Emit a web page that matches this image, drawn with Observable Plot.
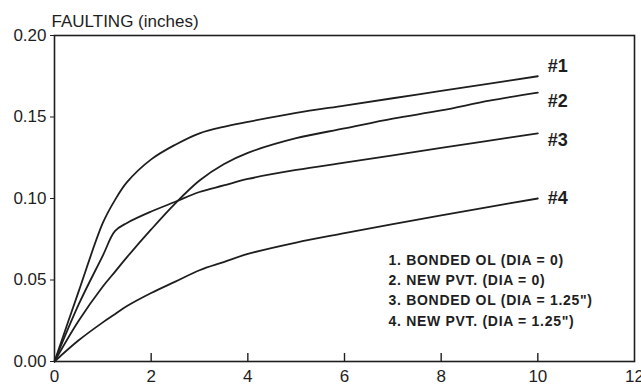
<!DOCTYPE html>
<html><head><meta charset="utf-8">
<script src="https://cdn.jsdelivr.net/npm/d3@7"></script>
<script src="https://cdn.jsdelivr.net/npm/@observablehq/plot@0.6"></script>
<style>body{margin:0;background:#fff} svg{display:block}</style>
</head><body><div id="chart"></div>
<script>
const xs = [0, 0.5, 1, 1.25, 1.5, 2, 2.5, 3, 3.5, 4, 5, 6, 7, 8, 9, 10];
const curve1 = [0, 0.043, 0.085, 0.099, 0.110, 0.124, 0.133, 0.140, 0.144, 0.147, 0.1525, 0.157, 0.1615, 0.166, 0.1705, 0.175];
const curve2 = [0, 0.025, 0.046, 0.055, 0.064, 0.081, 0.097, 0.111, 0.121, 0.128, 0.137, 0.143, 0.149, 0.154, 0.160, 0.165];
const curve3 = [0, 0.035, 0.065, 0.080, 0.085, 0.092, 0.098, 0.104, 0.108, 0.112, 0.1175, 0.122, 0.1265, 0.131, 0.1355, 0.140];
const curve4 = [0, 0.013, 0.024, 0.029, 0.034, 0.042, 0.049, 0.056, 0.061, 0.066, 0.073, 0.0787, 0.0843, 0.0897, 0.0949, 0.100];
const seriesLabels = ["#1", "#2", "#3", "#4"];
const legendLines = [
  "1. BONDED OL (DIA = 0)",
  "2. NEW PVT. (DIA = 0)",
  "3. BONDED OL (DIA = 1.25\")",
  "4. NEW PVT. (DIA = 1.25\")"
];
const xTicks = [0, 2, 4, 6, 8, 10, 12];
const xInnerTicks = [2, 4, 6, 8, 10];
const yTicks = [0, 0.05, 0.10, 0.15, 0.20];
const yTitle = "FAULTING (inches)";

const allCurves = [curve1, curve2, curve3, curve4];
const rows = [];
allCurves.forEach((c, i) => xs.forEach((x, j) => rows.push({s: seriesLabels[i], x, y: c[j]})));
const ends = allCurves.map((c, i) => ({s: seriesLabels[i], x: xs[xs.length - 1], y: c[c.length - 1]}));
const labelDy = [-10, 9, 7, 0];
const ink = "#1e1e1e";
const H = 387, MT = 35, MB = 26;

const chart = Plot.plot({
  width: 641, height: H,
  marginLeft: 54, marginRight: 7, marginTop: MT, marginBottom: MB,
  style: {fontFamily: "'Liberation Sans', Arial, sans-serif", fontSize: "17px", color: ink, background: "#fff"},
  x: {domain: [0, 12]},
  y: {domain: [0, 0.2]},
  marks: [
    Plot.axisX({ticks: xTicks, tickSize: 0, tickPadding: 8, label: null, tickFormat: d => String(d), fontSize: 17}),
    Plot.ruleX(xInnerTicks, {x: d => d, insetTop: H - MT - MB - 8, stroke: ink, strokeWidth: 1.4}),
    Plot.axisY({ticks: yTicks, tickSize: 4, tickPadding: 4, label: null, tickFormat: d3.format(".2f"), fontSize: 17}),
    Plot.frame({stroke: ink, strokeWidth: 1.6}),
    Plot.line(rows, {x: "x", y: "y", z: "s", curve: "catmull-rom", stroke: ink, strokeWidth: 1.8}),
    ...ends.map((e, i) => Plot.text([e], {x: "x", y: "y", text: "s", dx: 10, dy: labelDy[i], textAnchor: "start", fontWeight: "bold", fontSize: 18, fill: ink})),
    Plot.text([yTitle], {frameAnchor: "top-left", dx: -3, dy: -14, lineAnchor: "middle", textAnchor: "start", fontSize: 17, fill: ink}),
    Plot.text([legendLines.join("\n")], {frameAnchor: "bottom-left", dx: 334, dy: -36, lineAnchor: "bottom", lineHeight: 1.45, textAnchor: "start", fontWeight: "bold", fontSize: 14, fill: ink})
  ]
});
chart.querySelectorAll("text").forEach(t => {
  if (t.textContent.includes("BONDED")) t.style.letterSpacing = "0.7px";
});
document.getElementById("chart").appendChild(chart);
</script>
</body></html>
